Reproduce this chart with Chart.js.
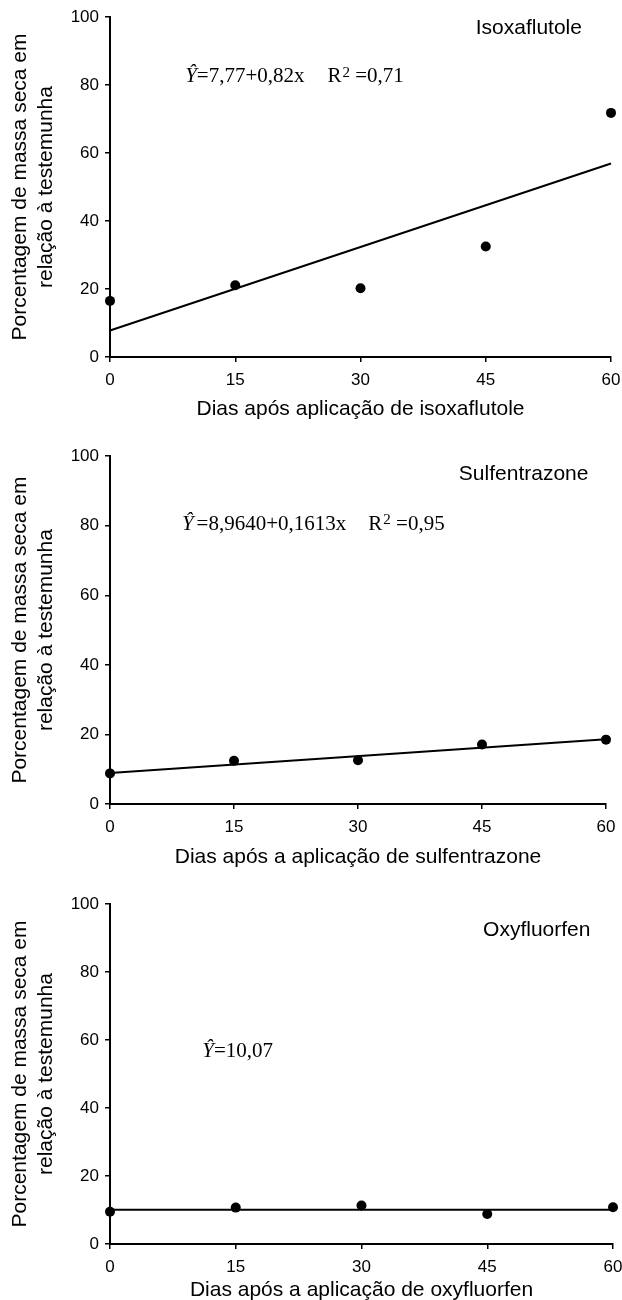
<!DOCTYPE html>
<html>
<head>
<meta charset="utf-8">
<script src="https://cdn.jsdelivr.net/npm/chart.js@4.4.0/dist/chart.umd.min.js"></script>
<style>
    body { margin: 0; background: #fff; width: 622px; height: 1300px; position: relative; overflow: hidden; }
    .box { position: absolute; left: 0; width: 622px; }
</style>
</head>
<body>
<div class="box" style="top:0;height:425px"><canvas id="chart1"></canvas></div>
<div class="box" style="top:440px;height:430px"><canvas id="chart2"></canvas></div>
<div class="box" style="top:880px;height:423px"><canvas id="chart3"></canvas></div>
<script>
// Data
const days = [0, 15, 30, 45, 60];
const fitDays = [0, 60];
const xTicks = [0, 15, 30, 45, 60];
const yTicks = [0, 20, 40, 60, 80, 100];

const isoxaflutole = [16.5, 21.1, 20.2, 32.5, 71.8];
const isoxaflutoleFit = [7.8, 56.9];
const sulfentrazone = [8.8, 12.4, 12.6, 17.1, 18.5];
const sulfentrazoneFit = [8.9, 18.6];
const oxyfluorfen = [9.5, 10.7, 11.3, 8.8, 10.8];
const oxyfluorfenFit = [10.1, 10.1];

const yTitle = ['Porcentagem de massa seca em', 'relação à testemunha'];
const SANS = '"Liberation Sans", Arial, sans-serif';
const SERIF = '"Liberation Serif", "Times New Roman", serif';

// Draws the herbicide name and the fitted equation
const textPlugin = {
    id: 'eqText',
    afterDraw(chart, args, opts) {
        const { ctx, scales: { x, y } } = chart;
        ctx.save();
        ctx.fillStyle = '#000';
        ctx.textBaseline = 'middle';
        ctx.textAlign = 'left';
        ctx.font = '21px ' + SANS;
        ctx.fillText(opts.name, x.getPixelForValue(opts.nameX), y.getPixelForValue(opts.nameY));

        let px = x.getPixelForValue(opts.eqX);
        const py = y.getPixelForValue(opts.eqY);
        opts.eq.forEach(seg => {
            ctx.font = (seg.it ? 'italic ' : '') + (seg.sup ? '15px ' : '21px ') + SERIF;
            ctx.fillText(seg.t, px, seg.sup ? py - 4 : py);
            px += ctx.measureText(seg.t).width + (seg.gap || 0);
        });
        ctx.restore();
    }
};

function toXY(xs, ys) {
    return xs.map((v, i) => ({ x: v, y: ys[i] }));
}

function makeChart(id, values, fit, xTitle, layout, ann) {
    return new Chart(document.getElementById(id), {
        type: 'scatter',
        data: {
            datasets: [
                {
                    data: toXY(days, values),
                    backgroundColor: '#000',
                    borderWidth: 0,
                    pointRadius: 5,
                    clip: false
                },
                {
                    data: toXY(fitDays, fit),
                    showLine: true,
                    borderColor: '#000',
                    borderWidth: 2,
                    pointRadius: 0,
                    clip: false
                }
            ]
        },
        options: {
            responsive: true,
            maintainAspectRatio: false,
            animation: false,
            events: [],
            layout: { padding: { top: layout.top, right: layout.right, left: 0, bottom: 0 } },
            plugins: {
                legend: { display: false },
                tooltip: { enabled: false },
                eqText: ann
            },
            scales: {
                x: {
                    type: 'linear',
                    min: 0,
                    max: 60,
                    afterBuildTicks: s => { s.ticks = xTicks.map(v => ({ value: v })); },
                    afterFit: s => {
                        s.height = layout.xHeight;
                        s.paddingLeft = 0;
                        s.paddingRight = 0;
                    },
                    border: { display: true, color: '#000', width: 2 },
                    grid: { drawOnChartArea: false, drawTicks: true, tickLength: 5, color: '#000', lineWidth: 1.5 },
                    ticks: { color: '#000', padding: 8, maxRotation: 0, font: { family: SANS, size: 17 } },
                    title: {
                        display: true,
                        text: xTitle,
                        color: '#000',
                        padding: { top: 0, bottom: layout.titlePad },
                        font: { family: SANS, size: 21 }
                    }
                },
                y: {
                    type: 'linear',
                    min: 0,
                    max: 100,
                    afterBuildTicks: s => { s.ticks = yTicks.map(v => ({ value: v })); },
                    afterFit: s => { s.width = 110; },
                    border: { display: true, color: '#000', width: 2 },
                    grid: { drawOnChartArea: false, drawTicks: true, tickLength: 5, color: '#000', lineWidth: 1.5 },
                    ticks: { color: '#000', padding: 6, font: { family: SANS, size: 17 } },
                    title: {
                        display: true,
                        text: yTitle,
                        color: '#000',
                        padding: { top: 8, bottom: 0 },
                        font: { family: SANS, size: 21 }
                    }
                }
            }
        },
        plugins: [textPlugin]
    });
}

makeChart('chart1', isoxaflutole, isoxaflutoleFit, 'Dias após aplicação de isoxaflutole',
    { top: 17, right: 11, xHeight: 68, titlePad: 3 },
    {
        name: 'Isoxaflutole', nameX: 43.8, nameY: 96.8, eqX: 9.0, eqY: 82.4,
        eq: [
            { t: 'Ŷ', it: true },
            { t: '=7,77+0,82x', gap: 23 },
            { t: 'R', gap: 1 },
            { t: '2', sup: true },
            { t: ' =0,71' }
        ]
    });

makeChart('chart2', sulfentrazone, sulfentrazoneFit, 'Dias após a aplicação de sulfentrazone',
    { top: 15, right: 16, xHeight: 66, titlePad: 0 },
    {
        name: 'Sulfentrazone', nameX: 42.2, nameY: 94.8, eqX: 8.7, eqY: 80.5,
        eq: [
            { t: 'Ŷ', it: true, gap: 3 },
            { t: '=8,9640+0,1613x', gap: 22 },
            { t: 'R', gap: 1 },
            { t: '2', sup: true },
            { t: ' =0,95' }
        ]
    });

makeChart('chart3', oxyfluorfen, oxyfluorfenFit, 'Dias após a aplicação de oxyfluorfen',
    { top: 24, right: 9, xHeight: 59, titlePad: 0 },
    {
        name: 'Oxyfluorfen', nameX: 44.5, nameY: 92.4, eqX: 11.0, eqY: 56.5,
        eq: [
            { t: 'Ŷ', it: true },
            { t: '=10,07' }
        ]
    });
</script>
</body>
</html>
